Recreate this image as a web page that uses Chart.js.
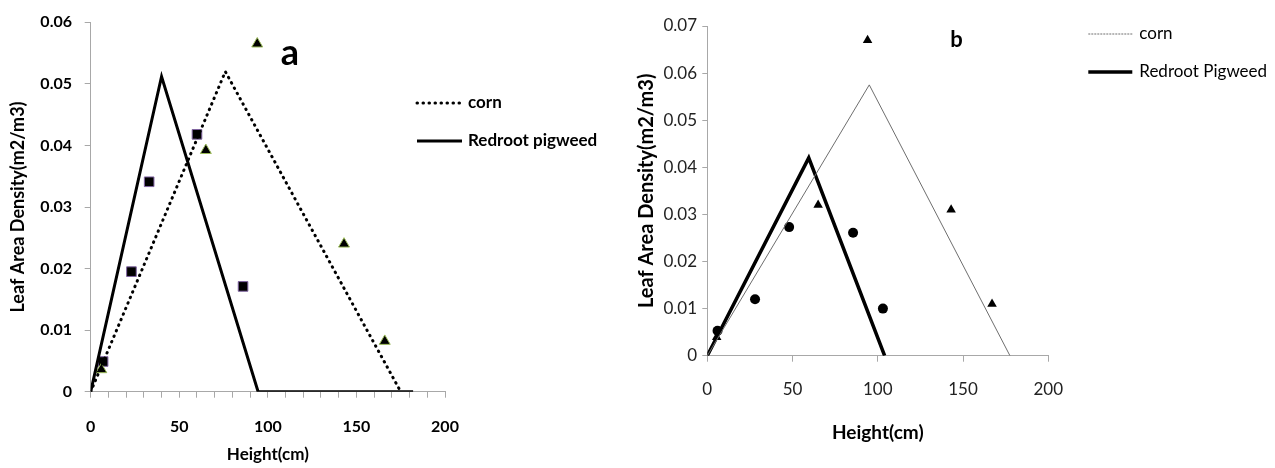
<!DOCTYPE html>
<html>
<head>
<meta charset="utf-8">
<script src="https://cdn.jsdelivr.net/npm/chart.js@4"></script>
<style>
  body { margin: 0; background: #fff; }
  #wrap { position: relative; width: 1275px; height: 468px; overflow: hidden; background: #fff; }
  #chartA { position: absolute; left: 0; top: 0; }
  #chartB { position: absolute; left: 630px; top: 0; }
  #page { position: absolute; left: 1234px; top: -12px; font: 12px Lato, sans-serif; color: #555; }
</style>
</head>
<body>
<div id="wrap">
  <canvas id="chartA" width="630" height="468"></canvas>
  <canvas id="chartB" width="645" height="468"></canvas>
  <div id="page">156</div>
</div>
<script>
// ---- data ----
const xTicks = [0, 50, 100, 150, 200];
const yTicksA = [0, 0.01, 0.02, 0.03, 0.04, 0.05, 0.06];
const yTicksB = [0, 0.01, 0.02, 0.03, 0.04, 0.05, 0.06, 0.07];

// panel a
const cornLineHeightA = [0, 76, 175];
const cornLineLadA = [0, 0.052, 0];
const pigweedLineHeightA = [0, 40, 94.5, 182];
const pigweedLineLadA = [0, 0.0512, 0, 0];
const cornObsHeightA = [6, 65, 94, 143, 166];
const cornObsLadA = [0.0036, 0.0392, 0.0565, 0.024, 0.0082];
const pigweedObsHeightA = [7, 23, 33, 60, 86];
const pigweedObsLadA = [0.0049, 0.0195, 0.0341, 0.0418, 0.0171];

// panel b
const cornLineHeightB = [0, 95, 177.5];
const cornLineLadB = [0, 0.0575, 0];
const pigweedLineHeightB = [0, 59.5, 104];
const pigweedLineLadB = [0, 0.042, 0];
const cornObsHeightB = [5.5, 65, 94, 143, 167];
const cornObsLadB = [0.0039, 0.032, 0.067, 0.031, 0.011];
const pigweedObsHeightB = [6, 28, 48, 85.5, 103];
const pigweedObsLadB = [0.0053, 0.012, 0.0273, 0.0261, 0.010];

Chart.defaults.font.family = 'Lato, "Liberation Sans", sans-serif';
Chart.defaults.color = '#000';

function pts(xs, ys) {
    return xs.map((x, i) => ({ x: x, y: ys[i] }));
}

function fmtY(v) {
    return v === 0 ? '0' : v.toFixed(2);
}

// draws the panel letter and the legend to the right of the plot
const overlay = {
    id: 'overlay',
    afterDraw(chart, args, o) {
        const ctx = chart.ctx;
        const a = chart.chartArea;
        ctx.save();
        ctx.fillStyle = '#000';
        ctx.textBaseline = 'middle';
        ctx.textAlign = 'center';
        ctx.font = o.letterFont;
        ctx.fillText(o.letter, chart.scales.x.getPixelForValue(o.letterAt[0]), chart.scales.y.getPixelForValue(o.letterAt[1]));

        ctx.textAlign = 'left';
        ctx.font = o.legendFont;
        o.items.forEach((item, i) => {
            const ds = chart.data.datasets[item.ds];
            const y = o.legendY[i];
            ctx.save();
            ctx.strokeStyle = ds.borderColor;
            ctx.lineWidth = ds.borderWidth;
            ctx.lineCap = ds.borderCapStyle || 'butt';
            ctx.setLineDash(item.dash || ds.borderDash || []);
            ctx.beginPath();
            ctx.moveTo(a.right + o.lineFrom, y);
            ctx.lineTo(a.right + o.lineTo, y);
            ctx.stroke();
            ctx.restore();
            ctx.fillText(ds.label, a.right + o.textAt, y);
        });
        ctx.restore();
    }
};

function makeChart(id, c) {
    return new Chart(document.getElementById(id), {
        type: 'scatter',
        data: { datasets: c.datasets },
        plugins: [overlay],
        options: {
            responsive: false,
            animation: false,
            layout: { padding: { top: c.top, right: c.right, left: 0, bottom: 0 } },
            plugins: {
                legend: { display: false },
                tooltip: { enabled: false },
                overlay: c.overlay
            },
            scales: {
                x: {
                    type: 'linear',
                    min: 0,
                    max: 200,
                    afterBuildTicks: (s) => { s.ticks = c.xGrid.map(v => ({ value: v })); },
                    afterFit: (s) => { s.height = c.xAxisHeight; },
                    ticks: {
                        autoSkip: false,
                        maxRotation: 0,
                        padding: c.xTickPad,
                        color: c.tickColor,
                        font: c.tickFont,
                        callback: (v) => (xTicks.includes(v) ? String(v) : '')
                    },
                    grid: { drawOnChartArea: false, tickLength: 6, color: '#a8a8a8', lineWidth: 1 },
                    border: { color: '#a8a8a8', width: 1 },
                    title: { display: true, text: 'Height(cm)', font: c.xTitleFont, color: '#000', padding: { top: 0, bottom: c.xTitlePad } }
                },
                y: {
                    type: 'linear',
                    min: 0,
                    max: c.yTicks[c.yTicks.length - 1],
                    afterBuildTicks: (s) => { s.ticks = c.yTicks.map(v => ({ value: v })); },
                    afterFit: (s) => { s.width = c.yAxisWidth; },
                    ticks: {
                        padding: c.yTickPad,
                        color: c.tickColor,
                        font: c.tickFont,
                        callback: (v) => fmtY(v)
                    },
                    grid: { drawOnChartArea: false, tickLength: c.yTickLen, color: '#a8a8a8', lineWidth: 1 },
                    border: { color: '#a8a8a8', width: 1 },
                    title: { display: true, text: 'Leaf Area Density(m2/m3)', font: c.yTitleFont, color: '#000', padding: { top: c.yTitlePad, bottom: 0 } }
                }
            }
        }
    });
}

// x grid positions: minor ticks every 10 on panel a, labelled ticks only on panel b
const xGridA = [];
for (let v = 0; v <= 200; v += 10) xGridA.push(v);

makeChart('chartA', {
    top: 15, right: 185,
    xAxisHeight: 76.3, yAxisWidth: 90.7,
    xGrid: xGridA, yTicks: yTicksA,
    xTickPad: 19.4, yTickPad: 12.7, yTickLen: 6,
    xTitlePad: 2.8, yTitlePad: 7.2,
    tickColor: '#000',
    tickFont: { size: 16, weight: 'bold' },
    xTitleFont: { size: 17, weight: 'bold' },
    yTitleFont: { size: 18, weight: 'bold' },
    datasets: [
        {
            label: 'corn', data: pts(cornLineHeightA, cornLineLadA), showLine: true,
            borderColor: '#000', borderWidth: 3, borderDash: [0.5, 5.5], borderCapStyle: 'round',
            pointRadius: 0
        },
        {
            label: 'Redroot pigweed', data: pts(pigweedLineHeightA, pigweedLineLadA), showLine: true,
            borderColor: '#000', borderWidth: 3, pointRadius: 0
        },
        {
            label: 'corn obs', data: pts(cornObsHeightA, cornObsLadA),
            pointStyle: 'triangle', pointRadius: 6.3, backgroundColor: '#000',
            borderColor: '#9bbb59', pointBorderWidth: 1
        },
        {
            label: 'pigweed obs', data: pts(pigweedObsHeightA, pigweedObsLadA),
            pointStyle: 'rect', pointRadius: 6.8, backgroundColor: '#000',
            borderColor: '#8064a2', pointBorderWidth: 1
        }
    ],
    overlay: {
        letter: 'a', letterAt: [112.5, 0.0549], letterFont: 'bold 36px Lato',
        legendFont: 'bold 17px Lato',
        lineFrom: -28, lineTo: 17, textAt: 23,
        legendY: [103, 141],
        items: [{ ds: 0 }, { ds: 1 }]
    }
});

makeChart('chartB', {
    top: 26, right: 226.7,
    xAxisHeight: 112.3, yAxisWidth: 77.3,
    xGrid: xTicks, yTicks: yTicksB,
    xTickPad: 18.1, yTickPad: 5.3, yTickLen: 5,
    xTitlePad: 23.3, yTitlePad: 4.7,
    tickColor: '#222',
    tickFont: { size: 17, weight: 'normal' },
    xTitleFont: { size: 19, weight: 'bold' },
    yTitleFont: { size: 20, weight: 'bold' },
    datasets: [
        {
            label: 'corn', data: pts(cornLineHeightB, cornLineLadB), showLine: true,
            borderColor: '#6e6e6e', borderWidth: 1, pointRadius: 0
        },
        {
            label: 'Redroot Pigweed', data: pts(pigweedLineHeightB, pigweedLineLadB), showLine: true,
            borderColor: '#000', borderWidth: 3.5, pointRadius: 0
        },
        {
            label: 'corn obs', data: pts(cornObsHeightB, cornObsLadB),
            pointStyle: 'triangle', pointRadius: 5.5, backgroundColor: '#000',
            borderColor: '#000', pointBorderWidth: 0
        },
        {
            label: 'pigweed obs', data: pts(pigweedObsHeightB, pigweedObsLadB),
            pointStyle: 'circle', pointRadius: 5, backgroundColor: '#000',
            borderColor: '#000', pointBorderWidth: 0
        }
    ],
    overlay: {
        letter: 'b', letterAt: [146.2, 0.067], letterFont: 'bold 22px Lato',
        legendFont: '17px Lato',
        lineFrom: 40, lineTo: 84, textAt: 91,
        legendY: [34, 72],
        items: [{ ds: 0, dash: [2, 1] }, { ds: 1 }]
    }
});
</script>
</body>
</html>
